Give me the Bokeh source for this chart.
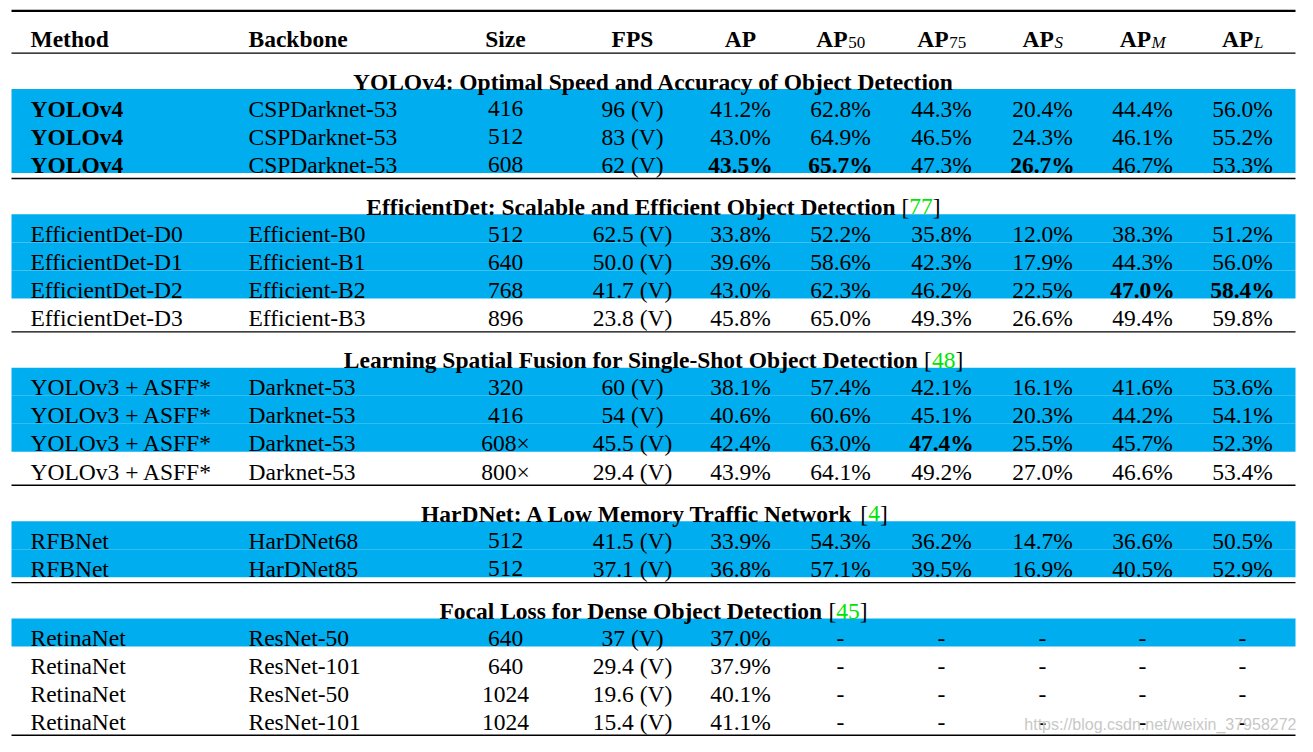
from bokeh.plotting import figure
from bokeh.models import ColumnDataSource, Range1d
from bokeh.core.properties import value, field
from bokeh.embed import file_html
from bokeh.resources import INLINE

# ------------------------------------------------------------------ data
section_titles = [
    "YOLOv4: Optimal Speed and Accuracy of Object Detection",
    "EfficientDet: Scalable and Efficient Object Detection",
    "Learning Spatial Fusion for Single-Shot Object Detection",
    "HarDNet: A Low Memory Traffic Network",
    "Focal Loss for Dense Object Detection",
]
section_cites = ["", "77", "48", "4", "45"]
section_sizes = [3, 4, 4, 2, 4]

methods = ["YOLOv4", "YOLOv4", "YOLOv4",
           "EfficientDet-D0", "EfficientDet-D1", "EfficientDet-D2", "EfficientDet-D3",
           "YOLOv3 + ASFF*", "YOLOv3 + ASFF*", "YOLOv3 + ASFF*", "YOLOv3 + ASFF*",
           "RFBNet", "RFBNet",
           "RetinaNet", "RetinaNet", "RetinaNet", "RetinaNet"]
backbones = ["CSPDarknet-53", "CSPDarknet-53", "CSPDarknet-53",
             "Efficient-B0", "Efficient-B1", "Efficient-B2", "Efficient-B3",
             "Darknet-53", "Darknet-53", "Darknet-53", "Darknet-53",
             "HarDNet68", "HarDNet85",
             "ResNet-50", "ResNet-101", "ResNet-50", "ResNet-101"]
sizes = ["416", "512", "608",
         "512", "640", "768", "896",
         "320", "416", "608\u00d7", "800\u00d7",
         "512", "512",
         "640", "640", "1024", "1024"]
fps = ["96 (V)", "83 (V)", "62 (V)",
       "62.5 (V)", "50.0 (V)", "41.7 (V)", "23.8 (V)",
       "60 (V)", "54 (V)", "45.5 (V)", "29.4 (V)",
       "41.5 (V)", "37.1 (V)",
       "37 (V)", "29.4 (V)", "19.6 (V)", "15.4 (V)"]
ap = ["41.2%", "43.0%", "43.5%",
      "33.8%", "39.6%", "43.0%", "45.8%",
      "38.1%", "40.6%", "42.4%", "43.9%",
      "33.9%", "36.8%",
      "37.0%", "37.9%", "40.1%", "41.1%"]
ap50 = ["62.8%", "64.9%", "65.7%",
        "52.2%", "58.6%", "62.3%", "65.0%",
        "57.4%", "60.6%", "63.0%", "64.1%",
        "54.3%", "57.1%",
        "-", "-", "-", "-"]
ap75 = ["44.3%", "46.5%", "47.3%",
        "35.8%", "42.3%", "46.2%", "49.3%",
        "42.1%", "45.1%", "47.4%", "49.2%",
        "36.2%", "39.5%",
        "-", "-", "-", "-"]
ap_s = ["20.4%", "24.3%", "26.7%",
        "12.0%", "17.9%", "22.5%", "26.6%",
        "16.1%", "20.3%", "25.5%", "27.0%",
        "14.7%", "16.9%",
        "-", "-", "-", "-"]
ap_m = ["44.4%", "46.1%", "46.7%",
        "38.3%", "44.3%", "47.0%", "49.4%",
        "41.6%", "44.2%", "45.7%", "46.6%",
        "36.6%", "40.5%",
        "-", "-", "-", "-"]
ap_l = ["56.0%", "55.2%", "53.3%",
        "51.2%", "56.0%", "58.4%", "59.8%",
        "53.6%", "54.1%", "52.3%", "53.4%",
        "50.5%", "52.9%",
        "-", "-", "-", "-"]
highlighted = [1, 1, 1,
               1, 1, 1, 0,
               1, 1, 1, 0,
               1, 1,
               1, 0, 0, 0]
bold_cells = [(0, "Method"), (1, "Method"), (2, "Method"),
              (2, "AP"), (2, "AP50"), (2, "APS"),
              (5, "APM"), (5, "APL"),
              (9, "AP75")]

header_plain = ["Method", "Backbone", "Size", "FPS", "AP"]
header_sub = [("AP50", "AP", "50", "normal"), ("AP75", "AP", "75", "normal"),
              ("APS", "AP", "S", "italic"), ("APM", "AP", "M", "italic"),
              ("APL", "AP", "L", "italic")]
watermark = "https://blog.csdn.net/weixin_37958272"

# ------------------------------------------------------------------ layout / style
SERIF = value("Liberation Serif")
FS = 23.5
SUB_FS = 17.0
BLUE = "#00AEEF"
GREEN = "#00E400"
TABLE_L, TABLE_R = 11, 1295
CENTER = (TABLE_L + TABLE_R) / 2
ROW_H = 28.5

col_keys = ["Method", "Backbone", "Size", "FPS", "AP", "AP50", "AP75", "APS", "APM", "APL"]
col_x = {"Method": 30, "Backbone": 248, "Size": 505, "FPS": 632, "AP": 740,
         "AP50": 840, "AP75": 941, "APS": 1042, "APM": 1142, "APL": 1242}
col_align = {k: ("left" if k in ("Method", "Backbone") else "center") for k in col_keys}
col_data = {"Method": methods, "Backbone": backbones, "Size": sizes, "FPS": fps,
            "AP": ap, "AP50": ap50, "AP75": ap75, "APS": ap_s, "APM": ap_m, "APL": ap_l}

# Times metrics (per 1000 em) used to centre multi-part texts
_bold = dict(zip("ABCDEFGHIJKLMNOPQRSTUVWXYZ",
                 [722, 667, 722, 722, 667, 611, 778, 778, 389, 500, 778, 667, 944,
                  722, 778, 611, 778, 722, 556, 667, 722, 722, 1000, 722, 722, 667]))
_bold.update(zip("abcdefghijklmnopqrstuvwxyz",
                 [500, 556, 444, 556, 444, 333, 500, 556, 278, 333, 556, 278, 833,
                  556, 500, 556, 556, 444, 389, 333, 556, 500, 722, 500, 500, 444]))
_bold.update({" ": 250, ":": 333, "-": 333, "*": 500})
_bold.update({d: 500 for d in "0123456789"})
_reg = {" ": 250, "[": 333, "]": 333}
_reg.update({d: 500 for d in "0123456789"})
_ital = {"S": 500, "M": 833, "L": 556}
_ital.update({d: 500 for d in "0123456789"})


def tw(s, table, size):
    return sum(table.get(c, 500) for c in s) * size / 1000.0


p = figure(width=1297, height=736, x_range=Range1d(0, 1297), y_range=Range1d(748.5, 0),
           output_backend="svg", toolbar_location=None, min_border=0,
           x_axis_location=None, y_axis_location=None,
           outline_line_color=None, background_fill_color="white",
           border_fill_color="white")
p.xgrid.visible = False
p.ygrid.visible = False

rules = dict(x0=[], x1=[], y=[], w=[])
bands = dict(top=[], bottom=[])
cells = dict(x=[], y=[], text=[], align=[], style=[])
green = dict(x=[], y=[], text=[])


def add_rule(y, w):
    rules["x0"].append(TABLE_L)
    rules["x1"].append(TABLE_R)
    rules["y"].append(y)
    rules["w"].append(w)


def add_cell(x, y, t, align, style):
    cells["x"].append(x)
    cells["y"].append(y)
    cells["text"].append(t)
    cells["align"].append(align)
    cells["style"].append(style)


# header
add_rule(10.5, 2.2)
HEAD_BASE = 39
for k in header_plain:
    add_cell(col_x[k], HEAD_BASE, k, col_align[k], "bold")
sub_src = dict(x=[], y=[], text=[], style=[])
for key, main, sub, sty in header_sub:
    w_main = tw(main, _bold, FS)
    w_sub = tw(sub, _ital, SUB_FS)
    start = col_x[key] - (w_main + w_sub) / 2
    add_cell(start + w_main, HEAD_BASE, main, "right", "bold")
    sub_src["x"].append(start + w_main + 0.5)
    sub_src["y"].append(HEAD_BASE + 3.7)
    sub_src["text"].append(sub)
    sub_src["style"].append(sty)
y = 53.5
add_rule(y, 1.3)

bold_set = set(bold_cells)
row = 0
for si, (title, cite, n) in enumerate(zip(section_titles, section_cites, section_sizes)):
    t_top = y + 8
    t_base = t_top + 21
    if cite:
        w_title = tw(title, _bold, FS)
        w_cite = tw(" [" + cite + "]", _reg, FS)
        xe = CENTER - (w_title + w_cite) / 2 + w_title
        add_cell(xe, t_base, title, "right", "bold")
        xb = xe + tw(" ", _reg, FS)
        add_cell(xb, t_base, "[", "left", "normal")
        xn = xb + tw("[", _reg, FS)
        green["x"].append(xn)
        green["y"].append(t_base)
        green["text"].append(cite)
        add_cell(xn + tw(cite, _reg, FS), t_base, "]", "left", "normal")
    else:
        add_cell(CENTER, t_base, title, "center", "bold")
    r_top = t_top + ROW_H
    for i in range(n):
        top = r_top + i * ROW_H
        if highlighted[row]:
            bands["top"].append(top)
            bands["bottom"].append(top + ROW_H)
        base = top + 20
        for k in col_keys:
            sty = "bold" if (row, k) in bold_set else "normal"
            add_cell(col_x[k], base, col_data[k][row], col_align[k], sty)
        row += 1
    y = r_top + n * ROW_H + 5.5
    last = si == len(section_titles) - 1
    add_rule(y if not last else y - 0.5, 2.2 if last else 1.3)

# draw
p.quad(left=TABLE_L, right=TABLE_R, top="top", bottom="bottom",
       source=ColumnDataSource(bands), fill_color=BLUE, line_color=None)
p.segment(x0="x0", x1="x1", y0="y", y1="y", line_width="w", line_color="black",
          source=ColumnDataSource(rules))
p.text(x="x", y="y", text="text", source=ColumnDataSource(cells),
       text_font=SERIF, text_font_size=value(f"{FS:g}px"),
       text_font_style=field("style"), text_align=field("align"),
       text_baseline="alphabetic", text_color="black")
p.text(x="x", y="y", text="text", source=ColumnDataSource(sub_src),
       text_font=SERIF, text_font_size=value(f"{SUB_FS:g}px"),
       text_font_style=field("style"), text_align="left",
       text_baseline="alphabetic", text_color="black")
p.text(x="x", y="y", text="text", source=ColumnDataSource(green),
       text_font=SERIF, text_font_size=value(f"{FS:g}px"),
       text_align="left", text_baseline="alphabetic", text_color=GREEN)
p.text(x=[1296], y=[736.5], text=[watermark],
       text_font=value("Liberation Sans"), text_font_size=value("16px"),
       text_align="right", text_baseline="alphabetic", text_color="#C8C8C8")

open("out.html", "w").write(file_html(p, INLINE))
